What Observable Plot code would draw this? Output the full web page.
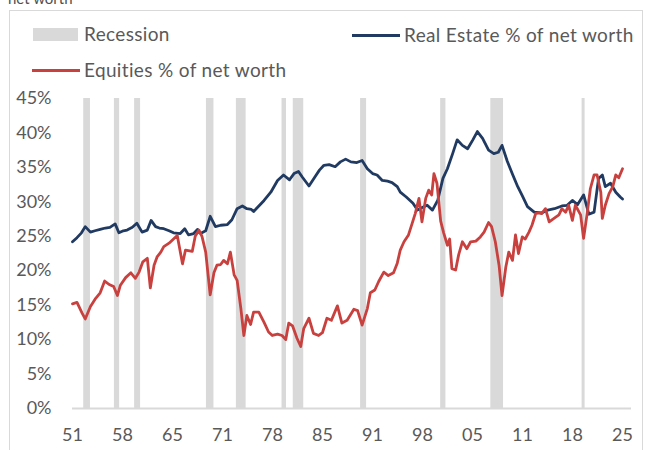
<!DOCTYPE html>
<html><head><meta charset="utf-8">
<script src="https://cdn.jsdelivr.net/npm/d3@7"></script>
<script src="https://cdn.jsdelivr.net/npm/@observablehq/plot@0.6"></script>
<style>
body{margin:0;background:#fff;font-family:Lato,"Open Sans",sans-serif;}
#wrap{position:relative;width:645px;height:450px;overflow:hidden;}
.frame{position:absolute;left:9px;top:10px;width:634px;height:460px;border:1px solid #d9d9d9;box-sizing:border-box;}
#head{position:relative;height:80px;}
.lg{position:absolute;font-size:19px;letter-spacing:0.35px;color:#595959;line-height:22px;white-space:nowrap;}
.title{position:absolute;left:8px;top:-11px;font-size:15px;color:#505050;}
.sw{position:absolute;}
#chart{position:relative;}
</style></head><body>
<div id="wrap">
  <div class="frame"></div>
  <div id="head">
    <div class="title">net worth</div>
    <div class="sw" style="left:33px;top:28px;width:45px;height:13px;background:#d9d9d9"></div>
    <div class="lg" style="left:84px;top:23px">Recession</div>
    <div class="sw" style="left:352px;top:34px;width:48px;height:3px;background:#203a62"></div>
    <div class="lg" style="left:404px;top:24px">Real Estate % of net worth</div>
    <div class="sw" style="left:32px;top:69px;width:48px;height:3px;background:#c8413f"></div>
    <div class="lg" style="left:84px;top:59px">Equities % of net worth</div>
  </div>
  <div id="chart"></div>
</div>
<script>
// Recession periods (decimal years)
const recStart = [1953.5, 1957.6, 1960.3, 1969.9, 1973.9, 1980.0, 1981.5, 1990.5, 2001.2, 2007.9, 2020.1];
const recEnd   = [1954.4, 1958.3, 1961.1, 1970.9, 1975.2, 1980.6, 1982.9, 1991.3, 2001.9, 2009.6, 2020.5];

// Real Estate % of net worth
const reYears = [1952.0,1952.6,1953.2,1953.7,1954.4,1955.0,1955.7,1956.4,1957.0,1957.7,1958.2,1958.8,1959.3,1960.0,1960.6,1961.3,1962.0,1962.5,1963.1,1963.6,1964.2,1964.9,1965.5,1966.4,1967.0,1967.5,1968.2,1968.7,1969.1,1969.8,1970.4,1971.1,1971.8,1972.7,1973.3,1974.0,1974.7,1975.3,1975.9,1976.2,1976.9,1977.6,1978.5,1979.4,1980.2,1981.0,1981.6,1982.2,1982.7,1983.6,1984.5,1985.0,1985.6,1986.3,1987.1,1987.8,1988.5,1989.2,1990.0,1990.7,1991.4,1992.1,1992.7,1993.4,1994.1,1994.7,1995.4,1995.8,1996.6,1997.5,1998.1,1998.8,1999.4,2000.1,2000.8,2001.5,2002.1,2002.8,2003.4,2004.1,2004.8,2005.5,2006.1,2006.8,2007.6,2008.3,2008.9,2009.4,2010.1,2010.8,2011.5,2012.1,2012.8,2013.7,2014.7,2015.5,2016.4,2017.4,2018.1,2018.8,2019.5,2020.3,2021.0,2021.7,2022.3,2022.8,2023.2,2023.9,2024.6,2025.2,2025.5];
const reValues = [24.2,24.8,25.5,26.4,25.6,25.8,26.0,26.2,26.3,26.8,25.5,25.8,25.9,26.3,26.9,25.6,25.9,27.3,26.4,26.2,26.1,25.8,25.5,25.4,26.1,25.2,25.4,26.0,25.4,25.8,27.9,26.4,26.6,26.7,27.4,29.0,29.4,29.0,28.9,28.6,29.4,30.2,31.4,33.1,33.9,33.2,34.1,34.4,33.6,32.3,33.8,34.6,35.3,35.4,35.1,35.8,36.2,35.8,35.7,36.0,34.8,34.1,33.9,33.1,33.0,32.8,32.2,31.4,30.7,29.8,28.8,29.2,29.5,28.8,30.2,33.4,34.8,37.0,39.0,38.2,37.7,39.0,40.2,39.2,37.5,37.0,37.2,38.2,35.9,34.0,32.2,30.9,29.3,28.5,28.4,28.8,29.0,29.4,29.5,30.2,29.6,31.0,28.2,28.5,33.4,33.9,32.2,32.7,31.4,30.7,30.4];

// Equities % of net worth
const eqYears = [1952.0,1952.6,1953.3,1953.7,1954.4,1955.1,1955.7,1956.3,1956.9,1957.5,1958.0,1958.4,1959.1,1959.8,1960.4,1960.9,1961.4,1962.0,1962.4,1962.9,1963.3,1963.8,1964.2,1964.9,1965.5,1966.0,1966.7,1967.1,1968.0,1968.4,1968.9,1969.3,1969.8,1970.4,1970.9,1971.3,1971.8,1972.2,1972.7,1973.1,1973.6,1974.0,1974.5,1974.9,1975.3,1975.8,1976.2,1976.9,1977.6,1978.2,1978.7,1979.4,1980.0,1980.5,1980.9,1981.4,1982.0,1982.5,1982.9,1983.6,1984.2,1984.9,1985.4,1986.0,1986.6,1987.4,1988.0,1988.7,1989.6,1990.1,1990.7,1991.4,1991.8,1992.4,1992.9,1993.6,1994.2,1994.9,1995.4,1995.8,1996.3,1996.9,1997.4,1997.8,1998.3,1998.7,1999.2,1999.6,2000.0,2000.3,2000.7,2001.2,2001.6,2002.1,2002.4,2002.7,2003.2,2003.6,2004.1,2004.7,2005.2,2005.9,2006.5,2007.0,2007.6,2008.0,2008.5,2009.0,2009.4,2009.9,2010.3,2010.8,2011.2,2011.6,2012.1,2012.5,2013.0,2013.4,2013.9,2014.3,2014.7,2015.2,2015.7,2016.2,2017.0,2017.4,2017.9,2018.3,2018.8,2019.2,2019.9,2020.3,2020.8,2021.2,2021.7,2022.1,2022.6,2022.8,2023.2,2023.7,2024.2,2024.6,2025.0,2025.5];
const eqValues = [15.2,15.4,13.8,13.0,14.8,16.0,16.8,18.5,18.0,17.7,16.4,17.9,19.0,19.7,18.9,19.8,21.3,21.8,17.5,20.8,22.0,22.7,23.5,24.0,24.6,25.1,21.0,23.0,22.8,25.0,25.9,25.0,22.7,16.5,19.7,20.8,20.9,21.5,21.0,22.7,19.4,18.6,14.5,10.6,13.5,12.2,14.0,14.0,12.5,11.1,10.6,10.8,10.6,10.0,12.4,12.0,10.2,9.0,11.6,13.1,10.9,10.6,11.0,13.1,12.8,14.9,12.4,12.8,14.4,14.2,12.1,14.5,16.8,17.2,18.4,19.8,19.3,19.7,21.1,23.0,24.2,25.2,26.9,28.3,30.5,27.1,30.5,31.7,31.0,34.1,32.7,27.2,25.5,23.7,24.6,20.3,20.1,22.3,24.2,23.2,24.2,24.3,24.9,25.6,27.0,26.4,24.2,20.8,16.4,20.5,22.7,21.5,25.2,22.5,24.9,24.6,25.6,26.6,28.3,28.4,28.3,29.0,27.1,27.5,28.1,29.0,28.5,29.5,27.3,29.5,28.1,24.7,28.5,31.9,33.9,33.9,31.4,27.6,29.5,31.2,32.2,33.9,33.5,34.8];

// Axis ticks
const xTickYears  = [1952.0,1958.68,1965.36,1972.05,1978.73,1985.41,1992.09,1998.77,2005.45,2012.14,2018.82,2025.5];
const xTickLabels = ["51","58","65","71","78","85","91","98","05","11","18","25"];
const yTicks = [0,5,10,15,20,25,30,35,40,45];

const recessions = recStart.map((s,i)=>({start:s,end:recEnd[i]}));
const reData = reYears.map((y,i)=>({year:y,value:reValues[i]}));
const eqData = eqYears.map((y,i)=>({year:y,value:eqValues[i]}));
const labelOf = new Map(xTickYears.map((y,i)=>[y,xTickLabels[i]]));

const chart = Plot.plot({
  width: 645, height: 370,
  marginLeft: 72, marginRight: 14, marginTop: 18, marginBottom: 42,
  style: {background: "transparent", fontFamily: "Lato, sans-serif", fontSize: "18px", color: "#595959"},
  x: {domain: [1952, 2026.7], ticks: xTickYears, tickFormat: d => labelOf.get(d), tickSize: 0, tickPadding: 20, label: null},
  y: {domain: [0, 45], ticks: yTicks, tickFormat: d => d + "%", tickSize: 0, tickPadding: 21, label: null},
  marks: [
    Plot.rect(recessions, {x1: "start", x2: "end", y1: 0, y2: 45, fill: "#d9d9d9"}),
    Plot.ruleY([0], {x1: 1952, x2: 2026.7, stroke: "#d9d9d9", strokeWidth: 2}),
    Plot.line(reData, {x: "year", y: "value", stroke: "#203a62", strokeWidth: 2.8}),
    Plot.line(eqData, {x: "year", y: "value", stroke: "#c8413f", strokeWidth: 2.8})
  ]
});
document.getElementById("chart").appendChild(chart);
</script>
</body></html>
